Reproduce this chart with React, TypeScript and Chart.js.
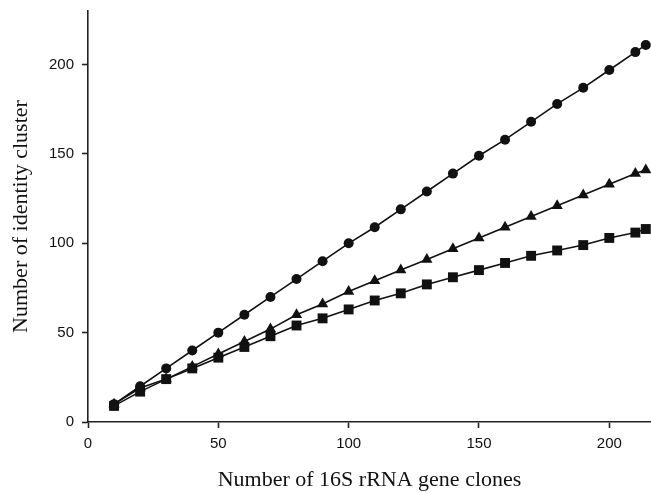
import { useEffect, useRef } from "react";
import { Chart, registerables } from "chart.js";

Chart.register(...registerables);

const clones = [10, 20, 30, 40, 50, 60, 70, 80, 90, 100, 110, 120, 130, 140, 150, 160, 170, 180, 190, 200, 210, 214];
const circleSeries = [10, 20, 30, 40, 50, 60, 70, 80, 90, 100, 109, 119, 129, 139, 149, 158, 168, 178, 187, 197, 207, 211];
const triangleSeries = [10, 19, 24, 31, 38, 45, 52, 60, 66, 73, 79, 85, 91, 97, 103, 109, 115, 121, 127, 133, 139, 141];
const squareSeries = [9, 17, 24, 30, 36, 42, 48, 54, 58, 63, 68, 72, 77, 81, 85, 89, 93, 96, 99, 103, 106, 108];

const xTitle = "Number of 16S rRNA gene clones";
const yTitle = "Number of identity cluster";

const pairs = (ys: number[]) => ys.map((y, i) => ({ x: clones[i], y }));

export default function App() {
  const ref = useRef<HTMLCanvasElement | null>(null);

  useEffect(() => {
    if (!ref.current) return;
    const ink = "#111111";
    const mk = (data: number[], style: string, radius: number) => ({
      data: pairs(data),
      borderColor: ink,
      backgroundColor: ink,
      borderWidth: 1.6,
      pointStyle: style,
      pointRadius: radius,
      pointBorderWidth: 0,
      pointBackgroundColor: ink,
      pointBorderColor: ink,
      tension: 0,
      clip: false as any,
    });
    const chart = new Chart(ref.current, {
      type: "line",
      data: {
        datasets: [
          mk(circleSeries, "circle", 5),
          mk(triangleSeries, "triangle", 6.5),
          mk(squareSeries, "rect", 7),
        ] as any,
      },
      options: {
        responsive: false,
        animation: false,
        events: [],
        layout: { autoPadding: false, padding: { top: 11, right: 0, bottom: 0, left: 0 } },
        plugins: { legend: { display: false }, tooltip: { enabled: false } },
        scales: {
          x: {
            type: "linear",
            min: 0,
            max: 216,
            border: { display: true, color: "#222", width: 1.6 },
            grid: { display: true, drawOnChartArea: false, drawTicks: true, tickLength: 6, tickColor: "#222", tickWidth: 1.6 },
            ticks: {
              stepSize: 50,
              includeBounds: false,
              padding: 7,
              color: ink,
              font: { family: "'Liberation Sans', Arial, sans-serif", size: 15 },
              maxRotation: 0,
            },
            title: {
              display: true,
              text: xTitle,
              color: ink,
              padding: { top: 0, bottom: 0 },
              font: { family: "'Liberation Serif', 'Times New Roman', serif", size: 22 },
            },
            afterFit: (s: any) => {
              s.height = 71;
              s.paddingLeft = 0;
              s.paddingRight = 0;
            },
          },
          y: {
            type: "linear",
            min: 0,
            max: 230,
            border: { display: true, color: "#222", width: 1.6 },
            grid: { display: true, drawOnChartArea: false, drawTicks: true, tickLength: 6, tickColor: "#222", tickWidth: 1.6 },
            ticks: {
              stepSize: 50,
              includeBounds: false,
              padding: 8,
              color: ink,
              font: { family: "'Liberation Sans', Arial, sans-serif", size: 15 },
            },
            title: {
              display: true,
              text: yTitle,
              color: ink,
              padding: { top: 8, bottom: 0 },
              font: { family: "'Liberation Serif', 'Times New Roman', serif", size: 22 },
            },
            afterFit: (s: any) => {
              s.width = 88;
              s.paddingTop = 0;
              s.paddingBottom = 0;
            },
          },
        },
      } as any,
    });
    return () => chart.destroy();
  }, []);

  return (
    <div style={{ position: "absolute", left: 0, top: 0, width: 651, height: 493, background: "#fff" }}>
      <canvas ref={ref} width={651} height={493} style={{ width: 651, height: 493, display: "block" }} />
    </div>
  );
}
